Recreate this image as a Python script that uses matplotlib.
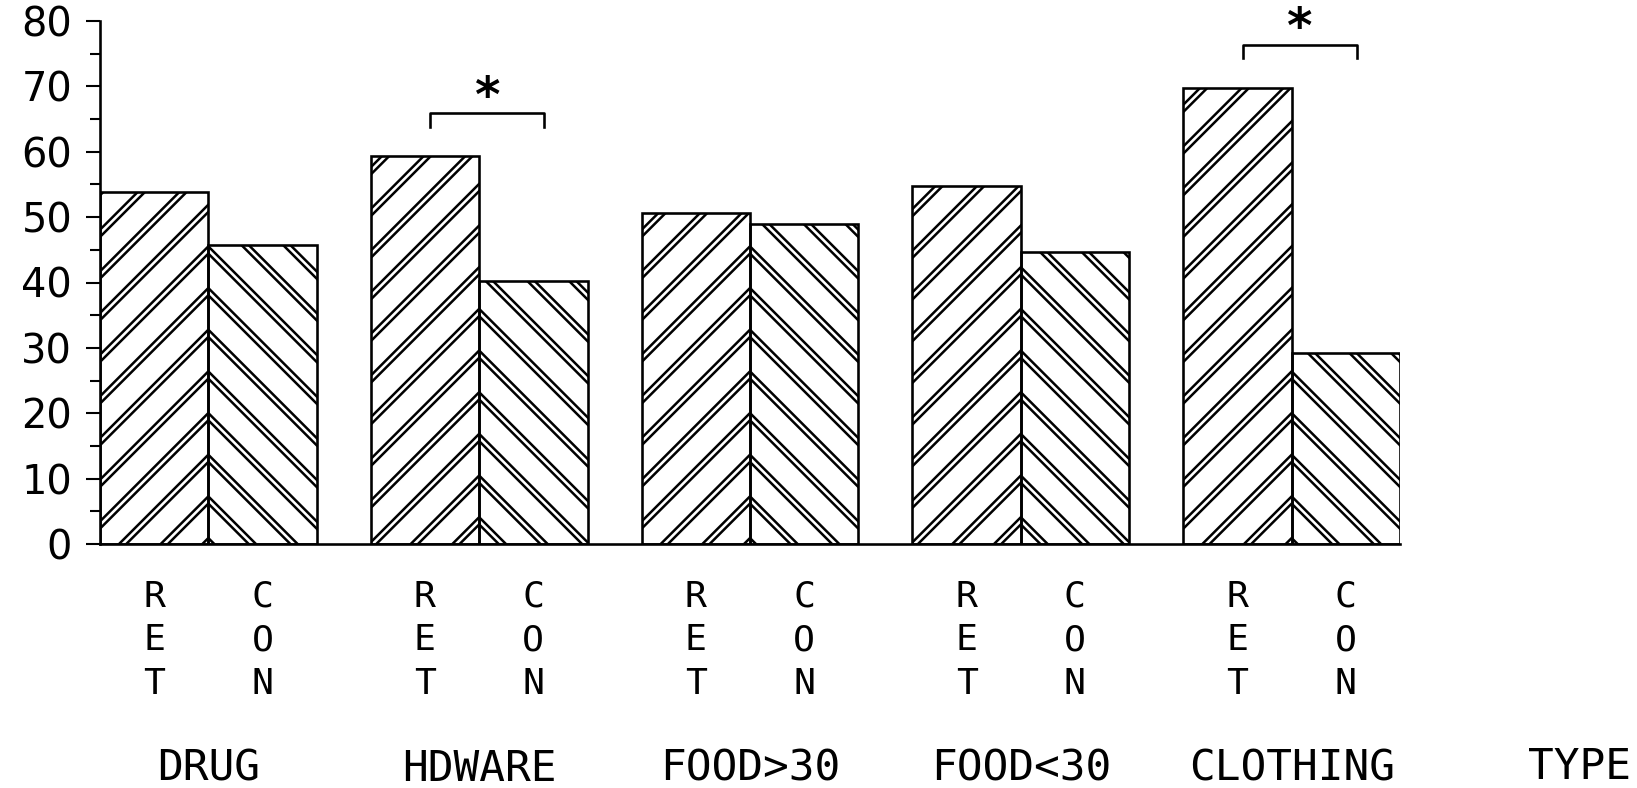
import numpy as np
import matplotlib
matplotlib.use("Agg")
import matplotlib.pyplot as plt
from matplotlib.ticker import MultipleLocator
from matplotlib.transforms import blended_transform_factory

# ---- data ----
categories = ["DRUG", "HDWARE", "FOOD>30", "FOOD<30", "CLOTHING"]
ret_values = [53.8, 59.3, 50.7, 54.8, 69.8]
con_values = [45.7, 40.3, 48.9, 44.7, 29.2]
significant = [False, True, False, False, True]
ret_letters = ["R", "E", "T"]
con_letters = ["C", "O", "N"]
y_ticks = [0, 10, 20, 30, 40, 50, 60, 70, 80]
x_title = "TYPE"

DPI = 250
W, H = 1637, 788
fig = plt.figure(figsize=(W / DPI, H / DPI), dpi=DPI)
# axes placed so that the hatch tiles meet at the RET/CON edges (chevrons)
ax = fig.add_axes([100 / W, 1 - 544 / H, 1300 / W, (544 - 21) / H])

n = len(categories)
centers = np.arange(n) * 2.5 + 1.0
ret_x = centers - 0.5
con_x = centers + 0.5
w = 1.0

def hatched(xs, vals, hatch):
    # thick black hatch, thinner white hatch on top -> double line look
    b1 = ax.bar(xs, vals, w, facecolor="white", edgecolor="black", linewidth=0,
                hatch=hatch, zorder=2)
    b2 = ax.bar(xs, vals, w, facecolor="none", edgecolor="white", linewidth=0,
                hatch=hatch, zorder=2.1)
    for p in b1:
        if hasattr(p, "set_hatch_linewidth"):
            p.set_hatch_linewidth(2.2)
    for p in b2:
        if hasattr(p, "set_hatch_linewidth"):
            p.set_hatch_linewidth(0.75)
    ax.bar(xs, vals, w, facecolor="none", edgecolor="black", linewidth=0.75,
           zorder=2.2)

hatched(ret_x, ret_values, "//")
hatched(con_x, con_values, "\\\\")

ax.set_xlim(0, 12)
ax.set_ylim(0, 80)
ax.set_yticks(y_ticks)
ax.yaxis.set_minor_locator(MultipleLocator(5))
ax.set_xticks([])
for s in ["top", "right"]:
    ax.spines[s].set_visible(False)
ax.spines["left"].set_linewidth(0.75)
ax.spines["bottom"].set_linewidth(0.75)
ax.tick_params(axis="y", which="major", direction="out", length=4, width=0.6,
               pad=4.0, labelsize=11.5)
ax.tick_params(axis="y", which="minor", direction="out", length=3, width=0.6)
for lab in ax.get_yticklabels():
    lab.set_family(["DejaVu Sans"])

trans = blended_transform_factory(ax.transData, ax.transAxes)
letter_y = [-0.101, -0.184, -0.268]
mono = ["DejaVu Sans Mono", "DejaVu Sans"]
for i in range(n):
    for k in range(3):
        ax.text(ret_x[i], letter_y[k], ret_letters[k], transform=trans,
                ha="center", va="center", fontsize=10.5, family=mono)
        ax.text(con_x[i], letter_y[k], con_letters[k], transform=trans,
                ha="center", va="center", fontsize=10.5, family=mono)
    ax.text(centers[i], -0.43, categories[i], transform=trans, ha="center",
            va="center", fontsize=12.3, family=mono)
ax.text(1 - 6 / W, 1 - 767 / H, x_title, transform=fig.transFigure, ha="right",
        va="center", fontsize=12.3, family=mono)

# significance brackets
for i in range(n):
    if significant[i]:
        yb = ret_values[i] + 6.6
        x0, x1 = ret_x[i] + 0.05, con_x[i] + 0.1
        ax.plot([x0, x0, x1, x1], [yb - 2.1, yb, yb, yb - 2.1], color="black",
                lw=0.75, clip_on=False, zorder=3)
        ax.text((x0 + x1) / 2, yb + 2.3, "*", ha="center", va="center",
                fontsize=14, fontweight="bold", clip_on=False)

fig.savefig("out.png", dpi=DPI, facecolor="white")
